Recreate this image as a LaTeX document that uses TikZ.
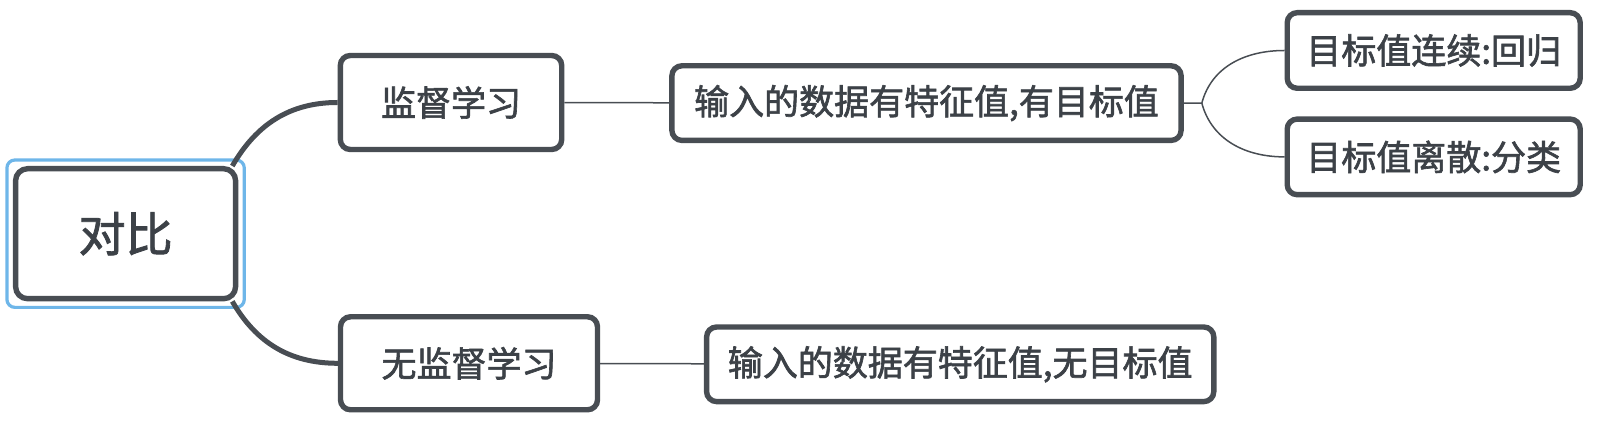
\documentclass[tikz,border=0pt]{standalone}
\usepackage{fontspec}
\setmainfont{Noto Sans CJK SC}[FakeBold=1.8]
\usetikzlibrary{positioning,fit}
\definecolor{mapInk}{RGB}{72,77,83}
\definecolor{mapText}{RGB}{60,65,71}
\definecolor{mapBlue}{RGB}{110,182,233}
\tikzset{
  box/.style={rounded corners=5pt, draw=mapInk, line width=2.7pt, fill=white, text=mapText,
              align=center, inner sep=0pt, font=\fontsize{17.5pt}{21pt}\selectfont},
  rootbox/.style={box, rounded corners=6pt, font=\fontsize{23.5pt}{28pt}\selectfont},
  selbox/.style={rounded corners=4pt, draw=mapBlue, line width=1.6pt, inner sep=3pt},
  branch/.style={draw=mapInk, line width=2.5pt},
  twig/.style={draw=mapInk, line width=0.75pt}
}

\begin{document}
\begin{tikzpicture}[x=0.5pt, y=0.5pt]
\useasboundingbox (0,0) rectangle (1600,422);
\node[rootbox, minimum width=110pt, minimum height=65pt] (root) at (125.6,188.3) {对比};
\node[selbox, fit=(root)] (rootsel) {};
\node[box, minimum width=110.7pt, minimum height=47pt] (sup) at (451,319.5) {监督学习};
\node[box, minimum width=128.5pt, minimum height=46.5pt] (unsup) at (469,58.7) {无监督学习};
\node[box, minimum width=254.6pt, minimum height=37.3pt] (suphas) at (926.5,318.9) {输入的数据有特征值,有目标值};
\node[box, minimum width=253.6pt, minimum height=37.3pt] (unsuphas) at (960.2,57.7) {输入的数据有特征值,无目标值};
\node[box, minimum width=146.5pt, minimum height=37.8pt] (reg) at (1433.7,371.5) {目标值连续:回归};
\node[box, minimum width=146.5pt, minimum height=37.8pt, below=12.7pt of reg] (cls) {目标值离散:分类};
\coordinate[right=9pt of suphas] (fork);
\draw[branch] ([xshift=-3pt]root.north east) to[out=60,in=180] (sup.west);
\draw[branch] ([xshift=-3pt]root.south east) to[out=-60,in=180] (unsup.west);
\draw[twig] (sup) -- (suphas);
\draw[twig] (unsup) -- (unsuphas);
\draw[twig] (suphas.east) -- (fork) to[out=75,in=180] (reg.west);
\draw[twig] (fork) to[out=-75,in=180] (cls.west);
\end{tikzpicture}
\end{document}
